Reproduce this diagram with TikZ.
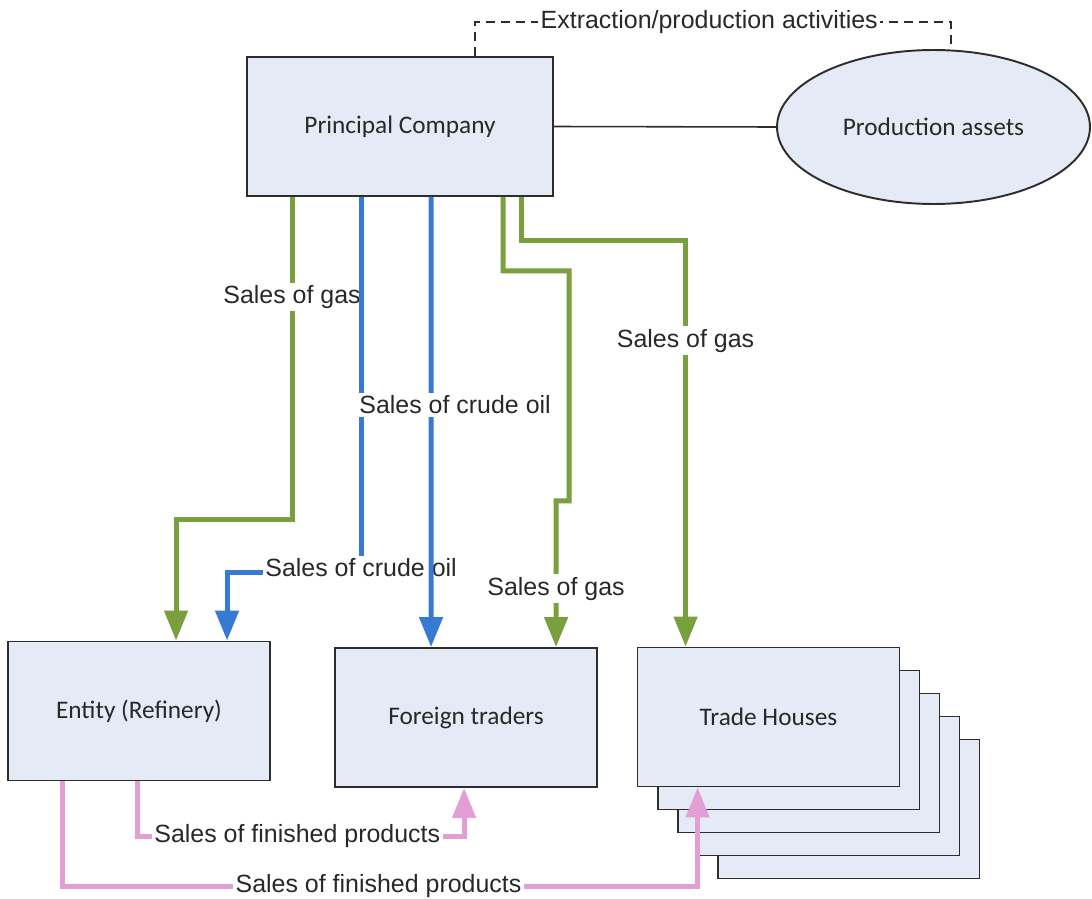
\documentclass[tikz,border=0pt]{standalone}
\usepackage{fontspec}
\setmainfont{Carlito}
\newfontfamily\arialfont{Liberation Sans}
\usepackage{tikz}
\usetikzlibrary{calc}
\usetikzlibrary{arrows.meta}
\usetikzlibrary{shapes.geometric}

\definecolor{gasgreen}{RGB}{122,160,62}
\definecolor{oilblue}{RGB}{55,122,212}
\definecolor{prodpink}{RGB}{228,158,214}
\definecolor{boxfill}{RGB}{229,235,246}
\definecolor{boxline}{RGB}{45,45,45}
\definecolor{txt}{RGB}{40,40,40}

\tikzset{
    box/.style = {draw=boxline, fill=boxfill, line width=1.1pt, minimum width=5.24cm, minimum height=2.78cm, inner sep=0pt, font=\fontsize{14.4}{17}\selectfont, text=txt},
    lbl/.style = {fill=white, inner sep=1.5pt, font=\arialfont\fontsize{14.2}{17}\selectfont, text=txt},
    flow/.style = {line width=2.8pt, -{Triangle[length=17pt,width=13pt]}},
    gas/.style = {flow, draw=gasgreen},
    oil/.style = {flow, draw=oilblue},
    fin/.style = {flow, draw=prodpink},
}

\begin{document}
\begin{tikzpicture}[x=0.02cm, y=-0.02cm]
    \useasboundingbox (0,0) rectangle (1092,899);
    \node[box, minimum width=6.12cm] (pc) at (400,126.5) {Principal Company};
    \node[box, ellipse, minimum width=6.26cm, minimum height=3.08cm] (pa) at (933.5,127) {Production assets};
    \node[box] (ent) at (139,711) {Entity (Refinery)};
    \node[box] (ft) at (466,717.5) {Foreign traders};
    \coordinate (thc) at (768.5,717);
    \foreach \i in {4,3,2,1}
        \node[box] (th\i) at ($(thc)+(\i*20,\i*23)$) {};
    \node[box] (th) at (thc) {Trade Houses};

    \draw[line width=0.9pt, boxline] (pc.east) -- (pa.west);
    \draw[line width=0.9pt, boxline, dash pattern=on 5pt off 3.5pt] ($(pc.north west)+(229,0)$) -- ++(0,-34) -| node[lbl, pos=0.246] {Extraction/production activities} ($(pa.north)+(17.5,0.5)$);

    \draw[gas] ($(pc.south west)+(46,0)$) -- node[lbl, pos=0.31] {Sales of gas} ++(0,323) -| ($(ent.north west)+(169,0)$);
    \draw[oil] ($(pc.south west)+(115,0)$) -- ++(0,376) -| node[lbl, pos=0, yshift=3pt] {Sales of crude oil} ($(ent.north west)+(220,0)$);
    \draw[oil] ($(pc.south west)+(185,0)$) -- node[lbl, pos=0.462, xshift=0.48cm] {Sales of crude oil} ($(ft.north west)+(97,0)$);
    \draw[gas] ($(pc.south west)+(257,0)$) -- ++(0,74) -- ++(66,0) -- ++(0,230) -- ++(-13,0) -- node[lbl, pos=0.6] {Sales of gas} ($(ft.north west)+(222,0)$);
    \draw[gas] ($(pc.south west)+(275,0)$) -- ++(0,44) -| node[lbl, pos=0.623] {Sales of gas} ($(th.north west)+(49,0)$);

    \draw[fin] ($(ent.south west)+(130,0)$) -- ++(0,55) -| node[lbl, pos=0.245] {Sales of finished products} ($(ft.south west)+(130,0)$);
    \draw[fin] ($(ent.south west)+(55,0)$) -- ++(0,105) -| node[lbl, pos=0.249] {Sales of finished products} ($(th.south west)+(61,0)$);
\end{tikzpicture}
\end{document}
